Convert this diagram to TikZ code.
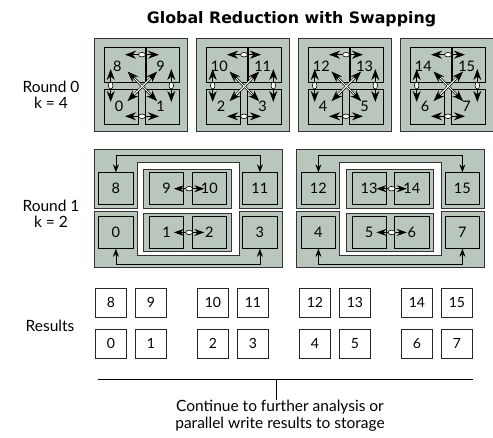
\documentclass[tikz,border=0pt]{standalone}
\usepackage{fontspec}
\setmainfont{Lato}
\newfontfamily\titlefont{DejaVu Sans}
\usetikzlibrary{arrows.meta,shapes.geometric}
\definecolor{sage}{RGB}{184,198,187}
\begin{document}
\begin{tikzpicture}[x=1pt,y=-1pt,
  every node/.style={font=\fontsize{15.5}{16.5}\selectfont, inner sep=0pt},
  panel/.style={draw=black!80, line width=1pt, fill=sage},
  sq/.style={draw=black, line width=0.7pt, fill=sage, rectangle},
  rbox/.style={draw=black, line width=0.8pt, fill=sage, rectangle, minimum width=34.4pt, minimum height=32pt, font=\fontsize{14.5}{16}\selectfont},
  res/.style={draw=black!85, line width=0.8pt, fill=white, rectangle, minimum width=31pt, minimum height=29pt, font=\fontsize{14}{16}\selectfont},
  num/.style={font=\fontsize{14.5}{16}\selectfont},
  bigarr/.style={{Stealth[length=11pt,width=8pt]}-{Stealth[length=11pt,width=8pt]}, line width=1.1pt},
  smallarr/.style={{Stealth[length=10pt,width=7pt]}-{Stealth[length=10pt,width=7pt]}, line width=1pt},
  ovalh/.style={ellipse, draw, fill=white, line width=0.6pt, minimum width=7pt, minimum height=4.5pt, inner sep=0pt},
  ovalv/.style={ellipse, draw, fill=white, line width=0.6pt, minimum width=4.5pt, minimum height=7pt, inner sep=0pt},
  conn/.style={{Stealth[length=8pt,width=6pt]}-{Stealth[length=8pt,width=6pt]}, line width=0.8pt},
]
\useasboundingbox (0,0) rectangle (493,438);
\fill[white] (0,0) rectangle (493,438);

% title and row labels
\node[font=\titlefont\bfseries\fontsize{15.8}{18}\selectfont] (title) at (291.5,19) {Global Reduction with Swapping};
\node[align=center] (lab0) at (51,95) {Round 0\\k = 4};
\node[align=center] (lab1) at (51,214) {Round 1\\k = 2};
\node (lab2) at (50,326) {Results};

% ---------------- Round 0 ----------------
\foreach \i in {0,1,2,3}{
  \pgfmathsetmacro\gx{94+102*\i}
  \pgfmathtruncatemacro\ta{8+2*\i}
  \pgfmathtruncatemacro\tb{9+2*\i}
  \pgfmathtruncatemacro\ba{2*\i}
  \pgfmathtruncatemacro\bb{2*\i+1}
  \node[panel, rectangle, minimum width=93pt, minimum height=93pt, anchor=north west] (p\i) at (\gx,38) {};
  \node[sq, anchor=north west, minimum width=41.5pt, minimum height=34.5pt] (s\i-a) at (\gx+9.5,47.5) {};
  \node[sq, anchor=north west, minimum width=33.5pt, minimum height=34.5pt] (s\i-b) at (\gx+51.5,47.5) {};
  \node[sq, anchor=north west, minimum width=34pt, minimum height=34.5pt] (s\i-c) at (\gx+9.5,89.5) {};
  \node[sq, anchor=north west, minimum width=34.3pt, minimum height=34.5pt] (s\i-d) at (\gx+50.7,89.5) {};
  \node[num] (n\i-a) at (\gx+23.3,66.3) {\ta};
  \node[num] (n\i-b) at (\gx+66.7,66.3) {\tb};
  \node[num] (n\i-c) at (\gx+25,106.3) {\ba};
  \node[num] (n\i-d) at (\gx+66.7,106.3) {\bb};
  % arrow end points
  \coordinate (t\i-1) at (\gx+31,54.7);
  \coordinate (t\i-2) at (\gx+65,54.7);
  \coordinate (u\i-1) at (\gx+31,116.3);
  \coordinate (u\i-2) at (\gx+65,116.3);
  \coordinate (l\i-1) at (\gx+16.7,69);
  \coordinate (l\i-2) at (\gx+16.7,102);
  \coordinate (r\i-1) at (\gx+77.3,69);
  \coordinate (r\i-2) at (\gx+77.3,102);
  \coordinate (d\i-1) at (\gx+33.5,71.5);
  \coordinate (d\i-2) at (\gx+63.2,101.2);
  \coordinate (e\i-1) at (\gx+63.2,71.5);
  \coordinate (e\i-2) at (\gx+33.5,101.2);
  % diagonals (hollow shafts)
  \draw[line width=2.4pt, {Stealth[length=11pt,width=8pt]}-{Stealth[length=11pt,width=8pt]}] (d\i-1) -- (d\i-2);
  \draw[line width=2.4pt, {Stealth[length=11pt,width=8pt]}-{Stealth[length=11pt,width=8pt]}] (e\i-1) -- (e\i-2);
  \draw[white, line width=1pt, shorten <=9.5pt, shorten >=9.5pt] (d\i-1) -- (d\i-2);
  \draw[white, line width=1pt, shorten <=9.5pt, shorten >=9.5pt] (e\i-1) -- (e\i-2);
  % straight two-way arrows
  \draw[bigarr] (t\i-1) -- node[ovalh] (ot\i) {} (t\i-2);
  \draw[bigarr] (u\i-1) -- node[ovalh] (ou\i) {} (u\i-2);
  \draw[bigarr] (l\i-1) -- node[ovalv] (ol\i) {} (l\i-2);
  \draw[bigarr] (r\i-1) -- node[ovalv] (or\i) {} (r\i-2);
}

% ---------------- Round 1 ----------------
\foreach \j in {0,1}{
  \pgfmathsetmacro\gx{94+202.5*\j}
  \pgfmathtruncatemacro\na{8+4*\j}
  \pgfmathtruncatemacro\nb{9+4*\j}
  \pgfmathtruncatemacro\nc{10+4*\j}
  \pgfmathtruncatemacro\nd{11+4*\j}
  \pgfmathtruncatemacro\ne{4*\j}
  \pgfmathtruncatemacro\nf{1+4*\j}
  \pgfmathtruncatemacro\ng{2+4*\j}
  \pgfmathtruncatemacro\nh{3+4*\j}
  \draw[panel] (\gx,149.3) -- (\gx+188,149.3) -- (\gx+188,208.3) -- (\gx+145.3,208.3)
     -- (\gx+145.3,162.7) -- (\gx+43.3,162.7) -- (\gx+43.3,208.3) -- (\gx,208.3) -- cycle;
  \draw[panel] (\gx,211.7) -- (\gx+43.3,211.7) -- (\gx+43.3,256) -- (\gx+145.3,256)
     -- (\gx+145.3,211.7) -- (\gx+188,211.7) -- (\gx+188,267.3) -- (\gx,267.3) -- cycle;
  \node[panel, rectangle, anchor=north west, minimum width=87.4pt, minimum height=39pt] (ct\j) at (\gx+49.3,169.3) {};
  \node[panel, rectangle, anchor=north west, minimum width=87.4pt, minimum height=38pt] (cb\j) at (\gx+49.3,212.7) {};
  \node[rbox, anchor=north west] (bA\j) at (\gx+4.3,172.3) {\na};
  \node[rbox, anchor=north west] (bB\j) at (\gx+55,172.3) {\nb};
  \node[rbox, anchor=north west] (bC\j) at (\gx+97.7,172.3) {\nc};
  \node[rbox, anchor=north west] (bD\j) at (\gx+148.3,172.3) {\nd};
  \node[rbox, anchor=north west] (bE\j) at (\gx+4.3,216) {\ne};
  \node[rbox, anchor=north west] (bF\j) at (\gx+55,216) {\nf};
  \node[rbox, anchor=north west] (bG\j) at (\gx+97.7,216) {\ng};
  \node[rbox, anchor=north west] (bH\j) at (\gx+148.3,216) {\nh};
  \draw[conn] (bA\j.north) -- ++(0,-17) -| (bD\j.north);
  \draw[conn] (bE\j.south) -- ++(0,15.3) -| (bH\j.south);
  \draw[smallarr] ([xshift=7.3pt]bB\j.center) -- node[ovalh] (om\j) {} ([xshift=-5pt]bC\j.center);
  \draw[smallarr] ([xshift=7.3pt]bF\j.center) -- node[ovalh] (on\j) {} ([xshift=-5pt]bG\j.center);
}

% ---------------- Results ----------------
\foreach \p in {0,1,2,3}{
  \pgfmathsetmacro\gx{94+102*\p}
  \pgfmathtruncatemacro\ta{8+2*\p}
  \pgfmathtruncatemacro\tb{9+2*\p}
  \pgfmathtruncatemacro\ba{2*\p}
  \pgfmathtruncatemacro\bb{2*\p+1}
  \node[res, anchor=north west] (ra\p) at (\gx+1,288) {\ta};
  \node[res, anchor=north west] (rb\p) at (\gx+41,288) {\tb};
  \node[res, anchor=north west] (rc\p) at (\gx+1,329) {\ba};
  \node[res, anchor=north west] (rd\p) at (\gx+41,329) {\bb};
}

% ---------------- bottom ----------------
\coordinate (lnL) at (98,379.3);
\coordinate (lnR) at (473,379.3);
\coordinate (tk) at (276,379.3);
\draw[line width=0.8pt] (lnL) -- (lnR);
\node[align=center] (cont) at (280,415.5) {Continue to further analysis or\\parallel write results to storage};
\draw[line width=0.8pt] (tk) -- (tk |- cont.north);
\end{tikzpicture}
\end{document}
